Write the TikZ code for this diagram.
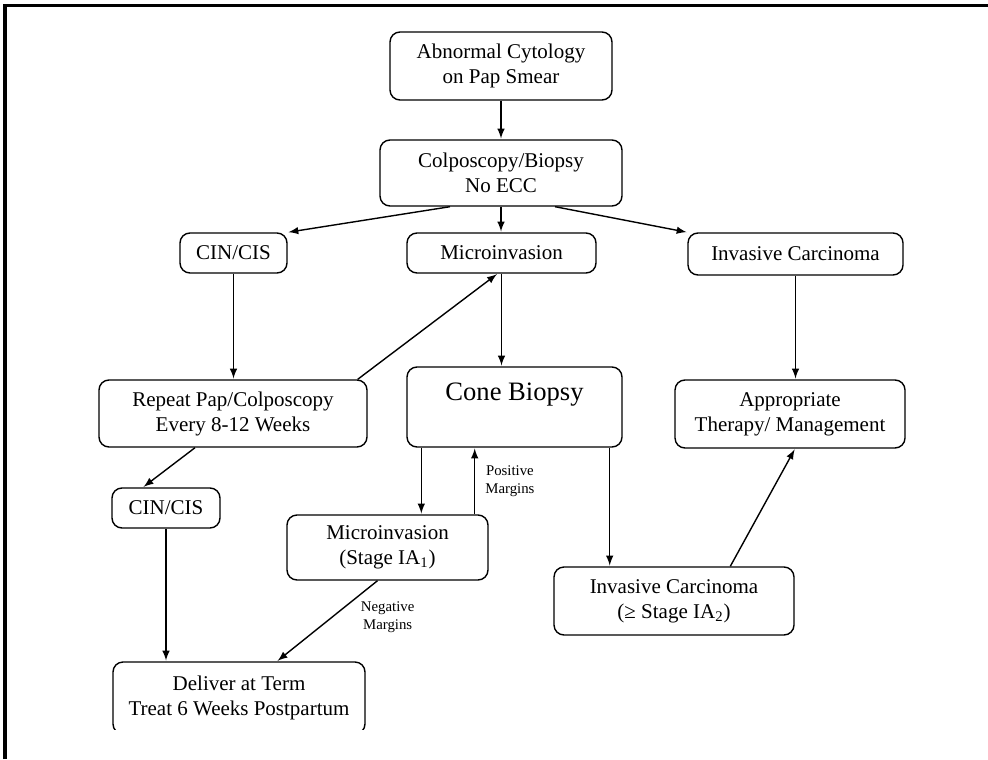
\documentclass[tikz,border=0pt]{standalone}
\usepackage{fontspec}
\setmainfont{Liberation Serif}
\usetikzlibrary{arrows}

\begin{document}
\begin{tikzpicture}[
    x=0.5pt, y=-0.5pt,
    line width=0.7pt,
    box/.style={draw,rounded corners=5pt,align=center,inner sep=2pt,
      font=\fontsize{10.5}{12.5}\selectfont},
    note/.style={align=center,inner sep=0pt,font=\fontsize{7.4}{9}\selectfont},
    proc/.style={draw,-latex,shorten >=0.4pt}]
  \useasboundingbox (0,0) rectangle (988,759);
  \draw[line width=1.6pt] (5,759) -- (5,5.5) -- (988,5.5);
  \node[box,minimum width=111pt,minimum height=34pt] (abn) at (501,66) {Abnormal Cytology\\on Pap Smear};
  \node[box,minimum width=121pt,minimum height=33pt] (colpo) at (501,173) {Colposcopy/Biopsy\\No ECC};
  \node[box,minimum width=53.5pt,minimum height=20pt] (cin1) at (233.5,253) {CIN/CIS};
  \node[box,minimum width=94.5pt,minimum height=20pt] (micro1) at (501.5,253) {Microinvasion};
  \node[box,minimum width=107.5pt,minimum height=21pt] (inv1) at (795.5,254) {Invasive Carcinoma};
  \node[box,minimum width=134pt,minimum height=33.5pt] (repeat) at (233,413.5) {Repeat Pap/Colposcopy\\Every 8-12 Weeks};
  \node[box,minimum width=107.5pt,inner ysep=0pt,text height=16.5pt,text depth=23.5pt,
    font=\fontsize{13.3}{15}\selectfont] (cone) at (514.5,407) {Cone Biopsy};
  \node[box,minimum width=115pt,minimum height=34pt] (approp) at (790,414) {Appropriate\\Therapy/ Management};
  \node[box,minimum width=100.5pt,minimum height=32.5pt] (ia1) at (387.5,547.5) {Microinvasion\\(Stage IA\textsubscript{1})};
  \node[box,minimum width=54pt,minimum height=20pt] (cin2) at (166,508) {CIN/CIS};
  \node[box,minimum width=120pt,minimum height=34pt] (inv2) at (674,601) {Invasive Carcinoma\\(≥ Stage IA\textsubscript{2})};
  \begin{scope}
    \clip (0,0) rectangle (988,729);
    \node[box,minimum width=126pt,minimum height=36pt] (deliver) at (239,698) {Deliver at Term\\Treat 6 Weeks Postpartum};
  \end{scope}
  \draw[proc] (abn) -- (colpo);
  \draw[proc] ([xshift=-25.5pt]colpo.south) -- (cin1.north east);
  \draw[proc] (colpo.south) -- (colpo.south |- micro1.north);
  \draw[proc] ([xshift=27pt]colpo.south) -- (inv1.north west);
  \draw[proc] (cin1.south) -- (cin1.south |- repeat.north);
  \draw[proc] ([xshift=-5pt]repeat.north east) -- ([xshift=-2pt]micro1.south);
  \draw[proc] (micro1.south) -- (micro1.south |- cone.north);
  \draw[proc] (inv1.south) -- (inv1.south |- approp.north);
  \draw[proc] ([xshift=7.5pt]cone.south west) -- ([xshift=7.5pt]cone.south west |- ia1.north);
  \draw[proc] ([xshift=-7pt]ia1.north east) -- node[note,right=5pt] {Positive\\Margins} ([xshift=-7pt]ia1.north east |- cone.south);
  \draw[proc] ([xshift=-6.5pt]cone.south east) -- ([xshift=-6.5pt]cone.south east |- inv2.north);
  \draw[proc] ([xshift=88.5pt]inv2.north west) -- ([xshift=2.5pt]approp.south);
  \draw[proc] ([xshift=-19pt]repeat.south) -- ([xshift=-11.5pt]cin2.north);
  \draw[proc] (cin2.south) -- (cin2.south |- deliver.north);
  \draw[proc] ([xshift=-5pt]ia1.south) -- node[note,pos=0.45,right=14pt] {Negative\\Margins} ([xshift=19pt]deliver.north);
\end{tikzpicture}
\end{document}
